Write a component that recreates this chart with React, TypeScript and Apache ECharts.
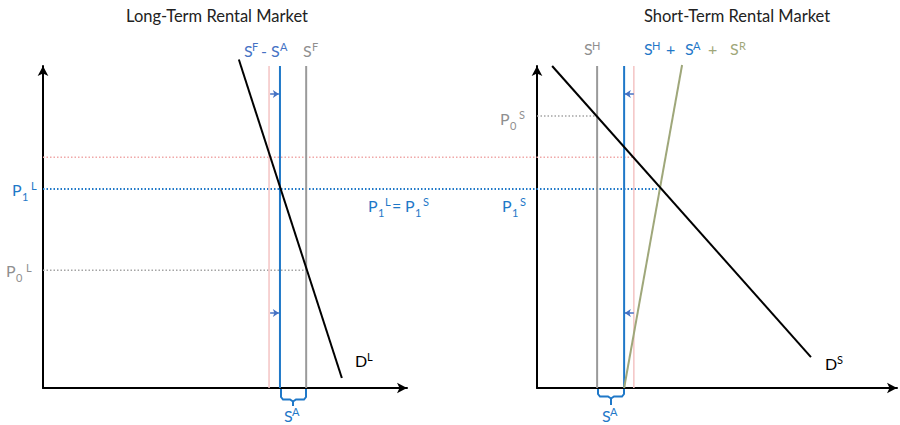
import React, { useEffect, useRef } from "react";
import * as echarts from "echarts";

// ---------- data (quantity / price units, each panel 0-100) ----------
// Long-term rental market
const ltPinkX = 62.1; // shifted supply reference (pink)
const ltNetSupplyX = 65.1; // S^F - S^A
const ltSupplyX = 72.3; // S^F
const ltDemand: [number, number][] = [[53.8, 102], [82.1, 3.1]];
const ltShiftArrowsX: [number, number] = [62.4, 64.8];
// Short-term rental market
const stHomeX = 16.7; // S^H
const stNetX = 24.2; // S^H + S^A
const stPinkX = 26.9;
const stRental: [number, number][] = [[24.2, 0], [40.3, 100.3]];
const stDemand: [number, number][] = [[4.2, 100], [76.1, 9.6]];
const stShiftArrowsX: [number, number] = [26.9, 24.4];
// Prices
const p1 = 61.8; // P1^L = P1^S
const pPink = 71.7;
const p0L = 36.6;
const p0S = 84.5;
const shiftArrowsY = [91.3, 23.3];
// cross-panel extents (in long-term quantity units, spanning both panels)
const crossSpan = 234.6;
const p1LineEnd = 169.5;
const pPinkLineEnd = 162.4;

const BLUE = "#1f78c8";
const GRAY = "#9a9a9a";
const TGRAY = "#8f8f8f";
const PINK = "#f4c4c4";
const PINK_DOT = "#f0a8a8";
const GRAY_DOT = "#a4a4a4";
const OLIVE = "#9fa77a";
const ARROW = "#4472c4";
const FONT = "Lato";
const MAIN = 16;
const SMALL = 11;

type Tok = [string, number, number, number, string];

function toks(list: Tok[]) {
  return list.map(([t, x, y, s, c]) => ({
    type: "text",
    x,
    y,
    silent: true,
    style: { text: t, fontSize: s, fill: c, fontFamily: FONT, align: "left", verticalAlign: "middle" },
  }));
}

function vline(x: number, color: string, gi: number, width = 2) {
  return {
    type: "line",
    xAxisIndex: gi,
    yAxisIndex: gi,
    data: [[x, 0], [x, 100]],
    symbol: "none",
    lineStyle: { color, width },
    silent: true,
    clip: false,
  };
}

function hdots(y: number, x0: number, x1: number, color: string, gi: number, width = 1.5) {
  return {
    type: "line",
    xAxisIndex: gi,
    yAxisIndex: gi,
    data: [[x0, y], [x1, y]],
    symbol: "none",
    lineStyle: { color, width, type: [1.5, 2] },
    silent: true,
    clip: false,
  };
}

function seg(pts: [number, number][], color: string, gi: number, width = 2) {
  return {
    type: "line",
    xAxisIndex: gi,
    yAxisIndex: gi,
    data: pts,
    symbol: "none",
    lineStyle: { color, width },
    silent: true,
    clip: false,
  };
}

function arrows(xs: [number, number], gi: number) {
  return {
    type: "line",
    xAxisIndex: gi,
    yAxisIndex: gi,
    data: [],
    silent: true,
    markLine: {
      silent: true,
      symbol: ["none", "arrow"],
      symbolSize: 6,
      label: { show: false },
      lineStyle: { color: ARROW, width: 1.5, type: "solid" },
      data: shiftArrowsY.map((y) => [{ coord: [xs[0], y] }, { coord: [xs[1], y] }]),
    },
  };
}

const axisCommon = {
  type: "value",
  min: 0,
  max: 100,
  axisLine: { show: true, onZero: false, symbol: ["none", "arrow"], symbolSize: [8, 10], lineStyle: { color: "#000", width: 2 } },
  axisTick: { show: false },
  axisLabel: { show: false },
  splitLine: { show: false },
};

export default function App() {
  const ref = useRef<HTMLDivElement>(null);
  useEffect(() => {
    if (!ref.current) return;
    const chart = echarts.init(ref.current, null, { renderer: "svg" });
    const braceStyle = { stroke: BLUE, lineWidth: 2, fill: "none" };
    const title = (text: string, x: number) => ({
      type: "text", x, y: 16, silent: true,
      style: { text, fontSize: 16.5, fill: "#222", fontFamily: FONT, align: "center", verticalAlign: "middle" },
    });
    chart.setOption({
      animation: false,
      grid: [
        { left: 43, top: 66, width: 364, height: 322 },
        { left: 537, top: 66, width: 360, height: 322 },
        { left: 43, top: 66, width: 854, height: 322 },
      ],
      xAxis: [
        { ...axisCommon, gridIndex: 0 },
        { ...axisCommon, gridIndex: 1 },
        { type: "value", gridIndex: 2, min: 0, max: crossSpan, show: false },
      ],
      yAxis: [
        { ...axisCommon, gridIndex: 0 },
        { ...axisCommon, gridIndex: 1 },
        { type: "value", gridIndex: 2, min: 0, max: 100, show: false },
      ],
      series: [
        // cross-panel price lines
        hdots(pPink, 0, pPinkLineEnd, PINK_DOT, 2, 1.5),
        hdots(p1, 0, p1LineEnd, BLUE, 2, 2),
        hdots(p0L, 0, ltSupplyX, GRAY_DOT, 0, 1.5),
        hdots(p0S, 0, stHomeX, GRAY_DOT, 1, 1.5),
        // long-term panel
        vline(ltPinkX, PINK, 0, 1.5),
        vline(ltSupplyX, GRAY, 0, 2),
        vline(ltNetSupplyX, BLUE, 0, 2),
        seg(ltDemand, "#000", 0, 2),
        arrows(ltShiftArrowsX, 0),
        // short-term panel
        vline(stHomeX, GRAY, 1, 2),
        vline(stPinkX, PINK, 1, 1.5),
        vline(stNetX, BLUE, 1, 2),
        seg(stRental, OLIVE, 1, 2),
        seg(stDemand, "#000", 1, 2),
        arrows(stShiftArrowsX, 1),
      ],
      graphic: [
        title("Long-Term Rental Market", 217),
        title("Short-Term Rental Market", 737),
        ...toks([
          ["S", 244, 50, MAIN, ARROW], ["F", 252, 46, SMALL, ARROW], ["-", 261, 50, MAIN, ARROW],
          ["S", 271, 50, MAIN, ARROW], ["A", 280, 46, SMALL, ARROW],
          ["S", 303, 50, MAIN, TGRAY], ["F", 312, 46, SMALL, TGRAY],
          ["P", 12, 189, MAIN, BLUE], ["1", 22, 196, SMALL, BLUE], ["L", 31, 185, SMALL, BLUE],
          ["P", 6, 270, MAIN, TGRAY], ["0", 16, 277, SMALL, TGRAY], ["L", 26, 267, SMALL, TGRAY],
          ["P", 368, 205, MAIN, BLUE], ["1", 378, 212, SMALL, BLUE], ["L", 385, 201, SMALL, BLUE],
          ["=", 392, 205, MAIN, BLUE],
          ["P", 405, 205, MAIN, BLUE], ["1", 415, 212, SMALL, BLUE], ["S", 423, 201, SMALL, BLUE],
          ["P", 502, 205, MAIN, BLUE], ["1", 512, 212, SMALL, BLUE], ["S", 520, 201, SMALL, BLUE],
          ["P", 500, 118, MAIN, TGRAY], ["0", 510, 125, SMALL, TGRAY], ["S", 519, 114, SMALL, TGRAY],
          ["S", 584, 48, MAIN, TGRAY], ["H", 592, 45, SMALL, TGRAY],
          ["S", 644, 48, MAIN, BLUE], ["H", 652, 45, SMALL, BLUE], ["+", 666, 48, MAIN, BLUE],
          ["S", 685, 48, MAIN, BLUE], ["A", 693, 45, SMALL, BLUE],
          ["+", 708, 48, MAIN, OLIVE], ["S", 730, 48, MAIN, OLIVE], ["R", 739, 45, SMALL, OLIVE],
          ["D", 355, 360, MAIN, "#000"], ["L", 367, 356, SMALL, "#000"],
          ["D", 825, 363, MAIN, "#000"], ["S", 837, 359, SMALL, "#000"],
          ["S", 284, 415, MAIN, BLUE], ["A", 292, 411, SMALL, BLUE],
          ["S", 602, 415, MAIN, BLUE], ["A", 610, 411, SMALL, BLUE],
        ]),
        {
          type: "polyline", silent: true,
          shape: { points: [[281, 389], [281, 397], [283, 399.5], [290, 399.5], [293, 401.5], [293, 406]] },
          style: braceStyle,
        },
        {
          type: "polyline", silent: true,
          shape: { points: [[306, 389], [306, 397], [304, 399.5], [296, 399.5], [293, 401.5]] },
          style: braceStyle,
        },
        {
          type: "polyline", silent: true,
          shape: { points: [[598, 389], [598, 394], [600, 396.5], [608, 396.5], [611, 398.5], [611, 405]] },
          style: braceStyle,
        },
        {
          type: "polyline", silent: true,
          shape: { points: [[624, 389], [624, 394], [622, 396.5], [614, 396.5], [611, 398.5]] },
          style: braceStyle,
        },
      ],
    });
    return () => chart.dispose();
  }, []);
  return <div ref={ref} style={{ position: "absolute", left: 0, top: 0, width: 900, height: 425 }} />;
}
